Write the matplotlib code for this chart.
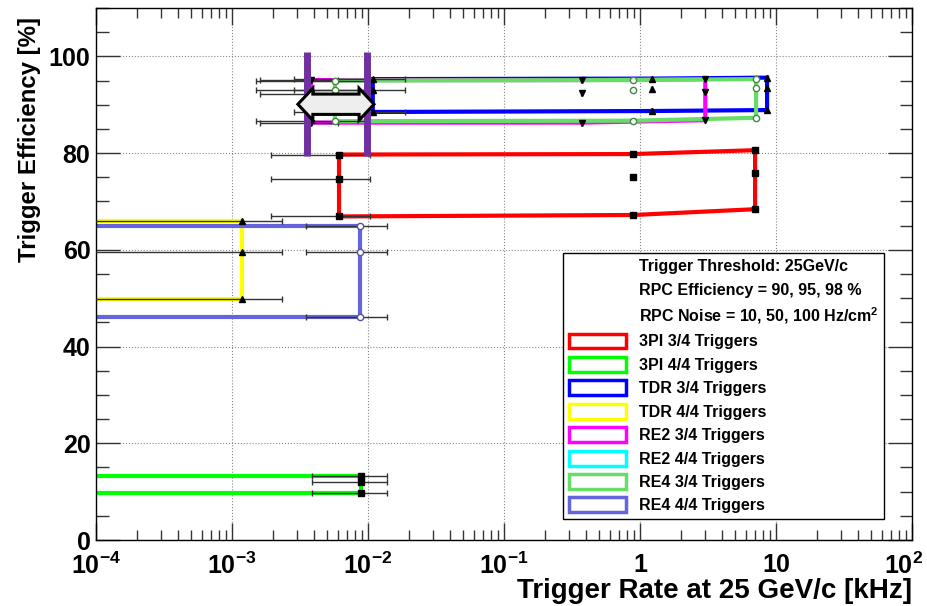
import matplotlib
matplotlib.use("Agg")
import matplotlib.pyplot as plt
import matplotlib.patches as mpatches
import matplotlib.transforms as mtransforms
from matplotlib.lines import Line2D
from matplotlib.ticker import FixedLocator, FixedFormatter, LogLocator, MultipleLocator, NullFormatter
import numpy as np

plt.rcParams["font.family"] = ["Liberation Sans", "DejaVu Sans"]
plt.rcParams["font.weight"] = "bold"
plt.rcParams["mathtext.fontset"] = "custom"
plt.rcParams["mathtext.bf"] = "Liberation Sans:bold"
plt.rcParams["mathtext.rm"] = "Liberation Sans:bold"
plt.rcParams["mathtext.default"] = "bf"

# rates in kHz for the three noise columns, efficiencies (top, mid, bottom) per column
# columns below 1e-4 kHz fall outside the plotted range
labels = ["3PI 3/4 Triggers", "3PI 4/4 Triggers", "TDR 3/4 Triggers", "TDR 4/4 Triggers",
          "RE2 3/4 Triggers", "RE2 4/4 Triggers", "RE4 3/4 Triggers", "RE4 4/4 Triggers"]
colors = ["#ff0000", "#00ff00", "#0000ff", "#ffff00", "#ff00ff", "#00ffff", "#66dd66", "#6464dc"]

rate_3pi34 = [0.00612, 0.893, 7.02]
eff_3pi34 = [[79.7, 74.7, 66.9], [79.8, 75.0, 67.2], [80.6, 75.9, 68.4]]
rate_3pi44 = [0.00002, 0.00005, 0.00889]
eff_3pi44 = [[13.3, 11.9, 9.8], [13.3, 11.9, 9.8], [13.3, 11.9, 9.8]]
rate_tdr34 = [0.01084, 1.22, 8.6]
eff_tdr34 = [[95.3, 93.0, 88.5], [95.4, 93.2, 88.7], [95.6, 93.5, 88.9]]
rate_tdr44 = [0.00002, 0.00005, 0.00118]
eff_tdr44 = [[66.0, 59.5, 49.9], [66.0, 59.5, 49.9], [66.0, 59.5, 49.9]]
rate_re234 = [0.00381, 0.372, 3.02]
eff_re234 = [[95.1, 92.3, 86.3], [95.1, 92.4, 86.3], [95.3, 92.6, 86.8]]
rate_re434 = [0.00571, 0.893, 7.14]
eff_re434 = [[95.0, 93.0, 86.6], [95.1, 93.0, 86.7], [95.3, 93.4, 87.3]]
rate_re444 = [0.00002, 0.00005, 0.00870]
eff_re444 = [[65.0, 59.5, 46.1], [65.0, 59.5, 46.1], [65.0, 59.5, 46.1]]

rate_err = [0.0042, 0.005, 0.008, 0.00114, 0.0022, 0.0, 0.0042, 0.0052]

series = [(rate_3pi34, eff_3pi34), (rate_3pi44, eff_3pi44), (rate_tdr34, eff_tdr34),
          (rate_tdr44, eff_tdr44), (rate_re234, eff_re234), None,
          (rate_re434, eff_re434), (rate_re444, eff_re444)]
markers = ["s", "s", "^", "^", "v", "o", "o", "o"]

# purple markers of the rate window and the double arrow between them
window_x = [0.00354, 0.00977]
window_y = [79.3, 100.8]
arrow_x = [0.00305, 0.01107]
arrow_y = 90.1

header = ["Trigger Threshold: 25GeV/c", "RPC Efficiency = 90, 95, 98 %",
          "RPC Noise = 10, 50, 100 Hz/cm$^{2}$"]

xtick_pos = [1e-4, 1e-3, 1e-2, 1e-1, 1, 10, 100]
xtick_lab = ["$10^{-4}$", "$10^{-3}$", "$10^{-2}$", "$10^{-1}$", "1", "10", "$10^{2}$"]
ytick_pos = [0, 20, 40, 60, 80, 100]
XMIN, XMAX = 1e-4, 1e2


def outline(rates, effs):
    pts = [(rates[0], effs[0][0]), (rates[1], effs[1][0]), (rates[2], effs[2][0]),
           (rates[2], effs[2][1]), (rates[2], effs[2][2]), (rates[1], effs[1][2]),
           (rates[0], effs[0][2]), (rates[0], effs[0][1]), (rates[0], effs[0][0])]
    return [p[0] for p in pts], [p[1] for p in pts]


fig = plt.figure(figsize=(9.27, 6.06), dpi=100)
ax = fig.add_axes([0.1036, 0.1089, 0.8802, 0.8779])
ax.set_xscale("log")
ax.set_xlim(XMIN, XMAX)
ax.set_ylim(0, 110)

for i, s in enumerate(series):
    if s is None:
        continue
    rates, effs = s
    xs, ys = outline(rates, effs)
    ax.plot(xs, ys, color=colors[i], lw=3, zorder=2, solid_joinstyle="miter")
    px = np.repeat(rates, 3)
    py = np.array(effs).ravel()
    keep = px >= XMIN
    px, py = px[keep], py[keep]
    ax.errorbar(px, py, xerr=rate_err[i], fmt="none", ecolor="#333333", elinewidth=1,
                capsize=2, capthick=1, zorder=3)
    if markers[i] == "o":
        ax.plot(px, py, ls="none", marker="o", ms=4.5, mfc="white",
                mec="#555599" if i == 7 else "#448844", mew=1, zorder=4)
    else:
        ax.plot(px, py, ls="none", marker=markers[i], ms=4, color="black", zorder=4)

for wx in window_x:
    ax.plot([wx, wx], window_y, color="#7030a0", lw=5, zorder=5, solid_capstyle="butt")

# double arrow built in log-x space
lx0, lx1 = np.log10(arrow_x)
head = 0.11
shaft_h, head_h = 2.1, 3.3
ax_pts = [(lx0, arrow_y), (lx0 + head, arrow_y + head_h), (lx0 + head, arrow_y + shaft_h),
          (lx1 - head, arrow_y + shaft_h), (lx1 - head, arrow_y + head_h), (lx1, arrow_y),
          (lx1 - head, arrow_y - head_h), (lx1 - head, arrow_y - shaft_h),
          (lx0 + head, arrow_y - shaft_h), (lx0 + head, arrow_y - head_h)]
poly = mpatches.Polygon([(10 ** a, b) for a, b in ax_pts], closed=True, fc="#eeeeee",
                        ec="black", lw=2.2, zorder=6, joinstyle="miter")
ax.add_patch(poly)

# axes styling
ax.xaxis.set_major_locator(FixedLocator(xtick_pos))
ax.xaxis.set_major_formatter(FixedFormatter(xtick_lab))
ax.xaxis.set_minor_locator(LogLocator(base=10, subs=np.arange(2, 10)))
ax.xaxis.set_minor_formatter(NullFormatter())
ax.yaxis.set_major_locator(FixedLocator(ytick_pos))
ax.yaxis.set_minor_locator(MultipleLocator(5))
ax.tick_params(which="both", direction="in", top=True, right=True, color="#333333", width=1)
ax.tick_params(axis="x", which="major", length=12, labelsize=18, pad=9)
ax.tick_params(axis="x", which="minor", length=7)
ax.tick_params(axis="y", which="major", length=17, labelsize=18, pad=4)
ax.tick_params(axis="y", which="minor", length=9)
for lab in ax.get_xticklabels() + ax.get_yticklabels():
    lab.set_fontweight("bold")
# last x label is pulled inside the canvas, as in the original
last = ax.get_xticklabels()[-1]
last.set_transform(last.get_transform() + mtransforms.ScaledTranslation(-0.08, 0, fig.dpi_scale_trans))
ax.grid(True, which="major", ls=":", color="#888888", lw=0.8)
for sp in ax.spines.values():
    sp.set_linewidth(1)

fig.text(0.032, 0.972, "Trigger Efficiency [%]", rotation=90, ha="center", va="top",
         fontsize=17.3, fontweight="bold")
fig.text(0.984, 0.004, "Trigger Rate at 25 GeV/c [kHz]", ha="right", va="bottom",
         fontsize=20, fontweight="bold")

# legend: three header lines followed by the series boxes
handles = [Line2D([], [], ls="none") for _ in header]
handles += [mpatches.Rectangle((0, 0), 1, 1, fc="white", ec=c, lw=2.5) for c in colors]
leg = ax.legend(handles, header + labels, loc="lower right", bbox_to_anchor=(0.9657, 0.0396),
                borderaxespad=0, handlelength=3.6, handleheight=1.06,
                labelspacing=0.47, handletextpad=0.8, borderpad=0.35, fancybox=False,
                framealpha=1, edgecolor="black", prop={"weight": "bold", "size": 11.5})
leg.get_frame().set_linewidth(1)
leg.set_zorder(10)

fig.savefig("out.png", dpi=100)
